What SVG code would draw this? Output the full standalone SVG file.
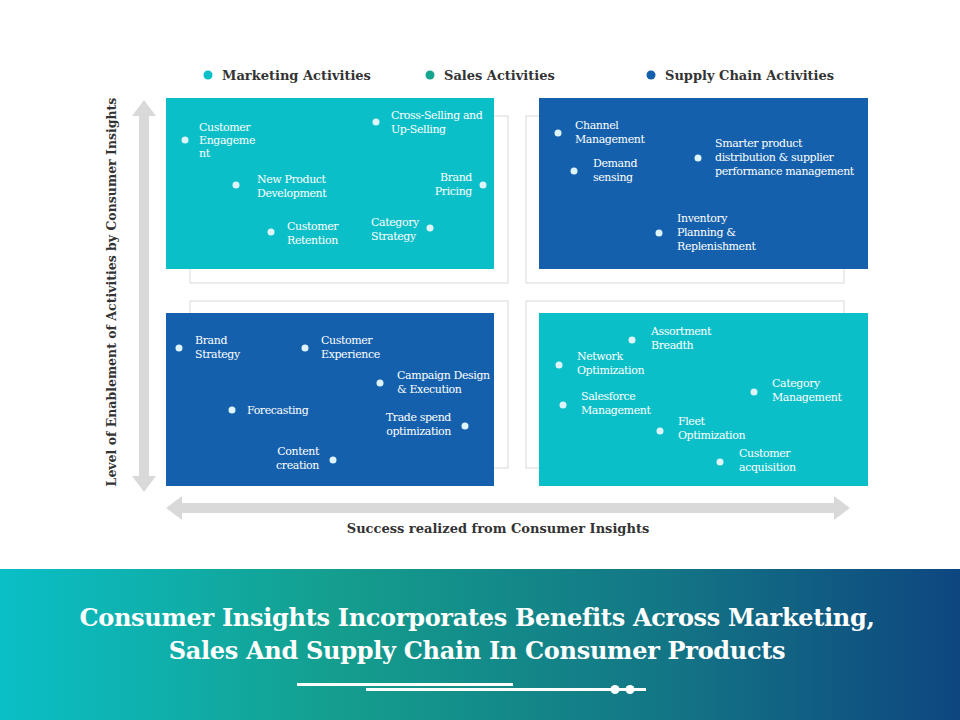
<svg xmlns="http://www.w3.org/2000/svg" width="960" height="720" viewBox="0 0 960 720">
<defs>
<linearGradient id="bg" x1="0" y1="0" x2="1" y2="0">
<stop offset="0" stop-color="#0ABFC6"/><stop offset="0.35" stop-color="#149E8E"/><stop offset="0.7" stop-color="#137585"/><stop offset="1" stop-color="#0E4680"/>
</linearGradient>
</defs>
<style>
.t{font-family:"DejaVu Serif","Liberation Serif",serif;font-size:11px;fill:#fff;letter-spacing:-0.4px}
.d{fill:#DDF4FA}
.o{fill:none;stroke:#d9d9d9;stroke-width:1}
.teal{fill:#0BBFC8}.blue{fill:#1460AC}
.lg{font-family:"DejaVu Serif","Liberation Serif",serif;font-size:13px;font-weight:bold;fill:#333}
</style>
<rect width="960" height="720" fill="#fff"/>
<g id="legend">
<circle cx="208" cy="75" r="4.5" fill="#0BBFC8"/><text class="lg" x="222" y="80">Marketing Activities</text>
<circle cx="430" cy="75" r="4.5" fill="#16A58F"/><text class="lg" x="444" y="80">Sales Activities</text>
<circle cx="651" cy="75" r="4.5" fill="#1460AC"/><text class="lg" x="665" y="80">Supply Chain Activities</text>
</g>
<g id="axes">
<path d="M144 100 L156 116 L149 116 L149 476 L156 476 L144 492 L132 476 L139 476 L139 116 L132 116 Z" fill="#d9d9d9"/>
<path d="M166 508 L182 496 L182 503 L834 503 L834 496 L850 508 L834 520 L834 513 L182 513 L182 520 Z" fill="#d9d9d9"/>
<text class="lg" transform="translate(116 292) rotate(-90)" text-anchor="middle" style="font-size:12.5px">Level of Enablement of Activities by Consumer Insights</text>
<text class="lg" x="498" y="533" text-anchor="middle">Success realized from Consumer Insights</text>
</g>
<g id="q1">
<rect class="o" x="190" y="116" width="318" height="167"/>
<rect class="teal" x="166" y="98" width="328" height="171"/>
<circle class="d" cx="185" cy="140" r="3.5"/><text class="t" x="199" y="131">Customer<tspan x="199" dy="13">Engageme</tspan><tspan x="199" dy="13">nt</tspan></text>
<circle class="d" cx="236" cy="185" r="3.5"/><text class="t" x="257" y="183">New Product<tspan x="257" dy="14">Development</tspan></text>
<circle class="d" cx="271" cy="232" r="3.5"/><text class="t" x="287" y="230">Customer<tspan x="287" dy="14">Retention</tspan></text>
<circle class="d" cx="376" cy="122" r="3.5"/><text class="t" x="391" y="119">Cross-Selling and<tspan x="391" dy="14">Up-Selling</tspan></text>
<circle class="d" cx="483" cy="185" r="3.5"/><text class="t" x="472" y="181" text-anchor="end">Brand<tspan x="472" dy="14">Pricing</tspan></text>
<circle class="d" cx="430" cy="228" r="3.5"/><text class="t" x="371" y="226">Category<tspan x="371" dy="14">Strategy</tspan></text>
</g>
<g id="q2">
<rect class="o" x="526" y="116" width="318" height="167"/>
<rect class="blue" x="539" y="98" width="329" height="171"/>
<circle class="d" cx="558" cy="133" r="3.5"/><text class="t" x="575" y="129">Channel<tspan x="575" dy="14">Management</tspan></text>
<circle class="d" cx="574" cy="171" r="3.5"/><text class="t" x="593" y="167">Demand<tspan x="593" dy="14">sensing</tspan></text>
<circle class="d" cx="698" cy="158" r="3.5"/><text class="t" x="715" y="147">Smarter product<tspan x="715" dy="14">distribution &amp; supplier</tspan><tspan x="715" dy="14">performance management</tspan></text>
<circle class="d" cx="659" cy="233" r="3.5"/><text class="t" x="677" y="222">Inventory<tspan x="677" dy="14">Planning &amp;</tspan><tspan x="677" dy="14">Replenishment</tspan></text>
</g>
<g id="q3">
<rect class="o" x="190" y="301" width="318" height="167"/>
<rect class="blue" x="166" y="313" width="328" height="173"/>
<circle class="d" cx="179" cy="348" r="3.5"/><text class="t" x="195" y="344">Brand<tspan x="195" dy="14">Strategy</tspan></text>
<circle class="d" cx="305" cy="348" r="3.5"/><text class="t" x="321" y="344">Customer<tspan x="321" dy="14">Experience</tspan></text>
<circle class="d" cx="380" cy="383" r="3.5"/><text class="t" x="397" y="379">Campaign Design<tspan x="397" dy="14">&amp; Execution</tspan></text>
<circle class="d" cx="232" cy="410" r="3.5"/><text class="t" x="247" y="414">Forecasting</text>
<circle class="d" cx="465" cy="426" r="3.5"/><text class="t" x="451" y="421" text-anchor="end">Trade spend<tspan x="451" dy="14">optimization</tspan></text>
<circle class="d" cx="333" cy="460" r="3.5"/><text class="t" x="319" y="455" text-anchor="end">Content<tspan x="319" dy="14">creation</tspan></text>
</g>
<g id="q4">
<rect class="o" x="526" y="301" width="318" height="167"/>
<rect class="teal" x="539" y="313" width="329" height="173"/>
<circle class="d" cx="632" cy="340" r="3.5"/><text class="t" x="651" y="335">Assortment<tspan x="651" dy="14">Breadth</tspan></text>
<circle class="d" cx="559" cy="365" r="3.5"/><text class="t" x="577" y="360">Network<tspan x="577" dy="14">Optimization</tspan></text>
<circle class="d" cx="563" cy="405" r="3.5"/><text class="t" x="581" y="400">Salesforce<tspan x="581" dy="14">Management</tspan></text>
<circle class="d" cx="754" cy="392" r="3.5"/><text class="t" x="772" y="387">Category<tspan x="772" dy="14">Management</tspan></text>
<circle class="d" cx="660" cy="431" r="3.5"/><text class="t" x="678" y="425">Fleet<tspan x="678" dy="14">Optimization</tspan></text>
<circle class="d" cx="720" cy="462" r="3.5"/><text class="t" x="739" y="457">Customer<tspan x="739" dy="14">acquisition</tspan></text>
</g>
<g id="banner">
<rect x="0" y="569" width="960" height="151" fill="url(#bg)"/>
<text x="477" y="626" text-anchor="middle" style="font-family:'DejaVu Serif','Liberation Serif',serif;font-weight:bold;font-size:24px;fill:#fff;letter-spacing:-0.3px">Consumer Insights Incorporates Benefits Across Marketing,</text>
<text x="477" y="659" text-anchor="middle" style="font-family:'DejaVu Serif','Liberation Serif',serif;font-weight:bold;font-size:24px;fill:#fff;letter-spacing:-0.3px">Sales And Supply Chain In Consumer Products</text>
<rect x="297" y="683" width="216" height="3" fill="#fff"/>
<rect x="366" y="688" width="280" height="3" fill="#fff"/>
<circle cx="615" cy="689.5" r="4.5" fill="#fff"/><circle cx="630" cy="689.5" r="4.5" fill="#fff"/>
</g>
</svg>
